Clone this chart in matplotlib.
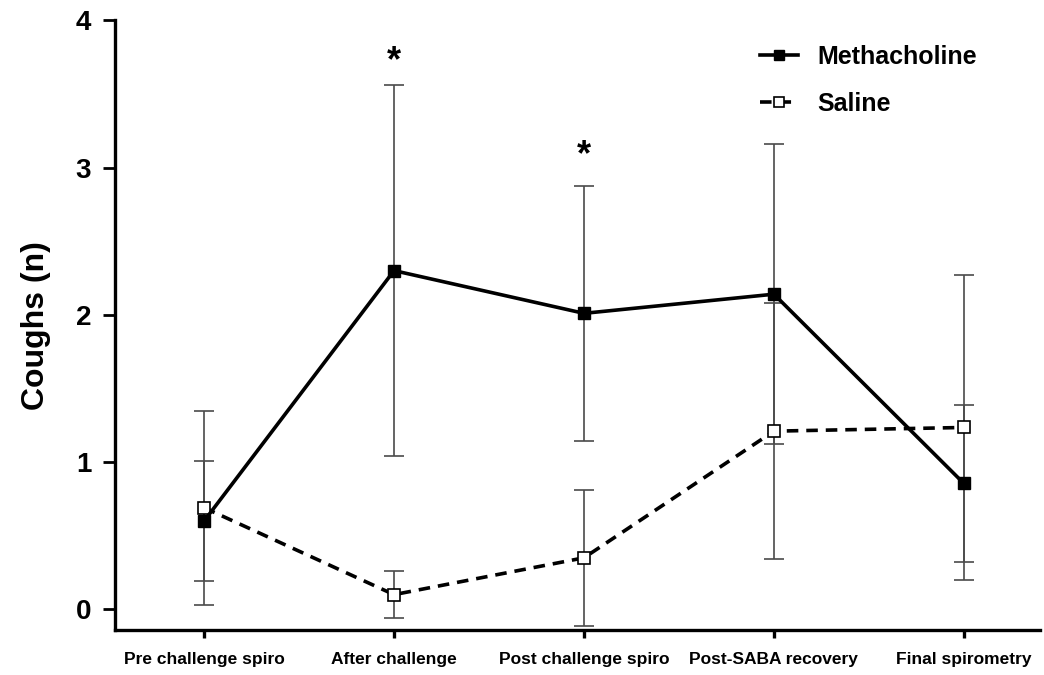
import matplotlib.pyplot as plt
import numpy as np

# Mean cough counts per phase, with SD error bars
phases = ["Pre challenge spiro", "After challenge", "Post challenge spiro",
          "Post-SABA recovery", "Final spirometry"]
metha_mean = [0.60, 2.30, 2.01, 2.14, 0.855]
metha_sd = [0.41, 1.26, 0.865, 1.02, 0.535]
saline_mean = [0.69, 0.10, 0.35, 1.21, 1.235]
saline_sd = [0.66, 0.16, 0.46, 0.87, 1.035]
star_idx = [1, 2]
star_y = [3.60, 2.96]

plt.rcParams["font.family"] = ["Liberation Sans", "DejaVu Sans"]
plt.rcParams["font.weight"] = "bold"

fig = plt.figure(figsize=(10.44, 6.75), dpi=100)
ax = fig.add_axes([0.110, 0.0667, 0.886, 0.9033])

x = np.arange(len(phases))

ax.errorbar(x, metha_mean, yerr=metha_sd, fmt="none", ecolor="#4a4a4a",
            elinewidth=1.2, capsize=7, capthick=1.2, zorder=1)
ax.errorbar(x, saline_mean, yerr=saline_sd, fmt="none", ecolor="#4a4a4a",
            elinewidth=1.2, capsize=7, capthick=1.2, zorder=1)

ax.plot(x, saline_mean, color="black", lw=2.6, ls=(0, (3.2, 2.2)),
        marker="s", ms=9, mfc="white", mec="black", mew=1.2,
        label="Saline", zorder=3)
ax.plot(x, metha_mean, color="black", lw=2.6, ls="-",
        marker="s", ms=9, mfc="black", mec="black",
        label="Methacholine", zorder=4)

for i, yv in zip(star_idx, star_y):
    ax.text(x[i], yv, "*", ha="center", va="bottom", fontsize=26,
            fontweight="bold")

ax.set_xlim(-0.47, 4.4)
ax.set_ylim(-0.14, 4)
ax.set_yticks([0, 1, 2, 3, 4])
ax.set_xticks(x)
ax.set_xticklabels(phases, fontsize=12.5, fontweight="bold")
ax.tick_params(axis="y", labelsize=20, width=2, length=9, pad=8)
ax.tick_params(axis="x", width=2.4, length=6, pad=10)
for lab in ax.get_yticklabels():
    lab.set_fontweight("bold")

ax.set_ylabel("Coughs (n)", fontsize=23, fontweight="bold", labelpad=18)

for side in ("top", "right"):
    ax.spines[side].set_visible(False)
for side in ("left", "bottom"):
    ax.spines[side].set_linewidth(2.4)

handles, labels = ax.get_legend_handles_labels()
fig.legend(handles[::-1], labels[::-1], loc="upper left",
           bbox_to_anchor=(0.728, 0.933), bbox_transform=fig.transFigure,
           frameon=False, fontsize=18, borderpad=0, borderaxespad=0,
           handlelength=1.5, handletextpad=0.8, labelspacing=0.9,
           markerscale=0.75)

fig.savefig("out.png", dpi=100)
